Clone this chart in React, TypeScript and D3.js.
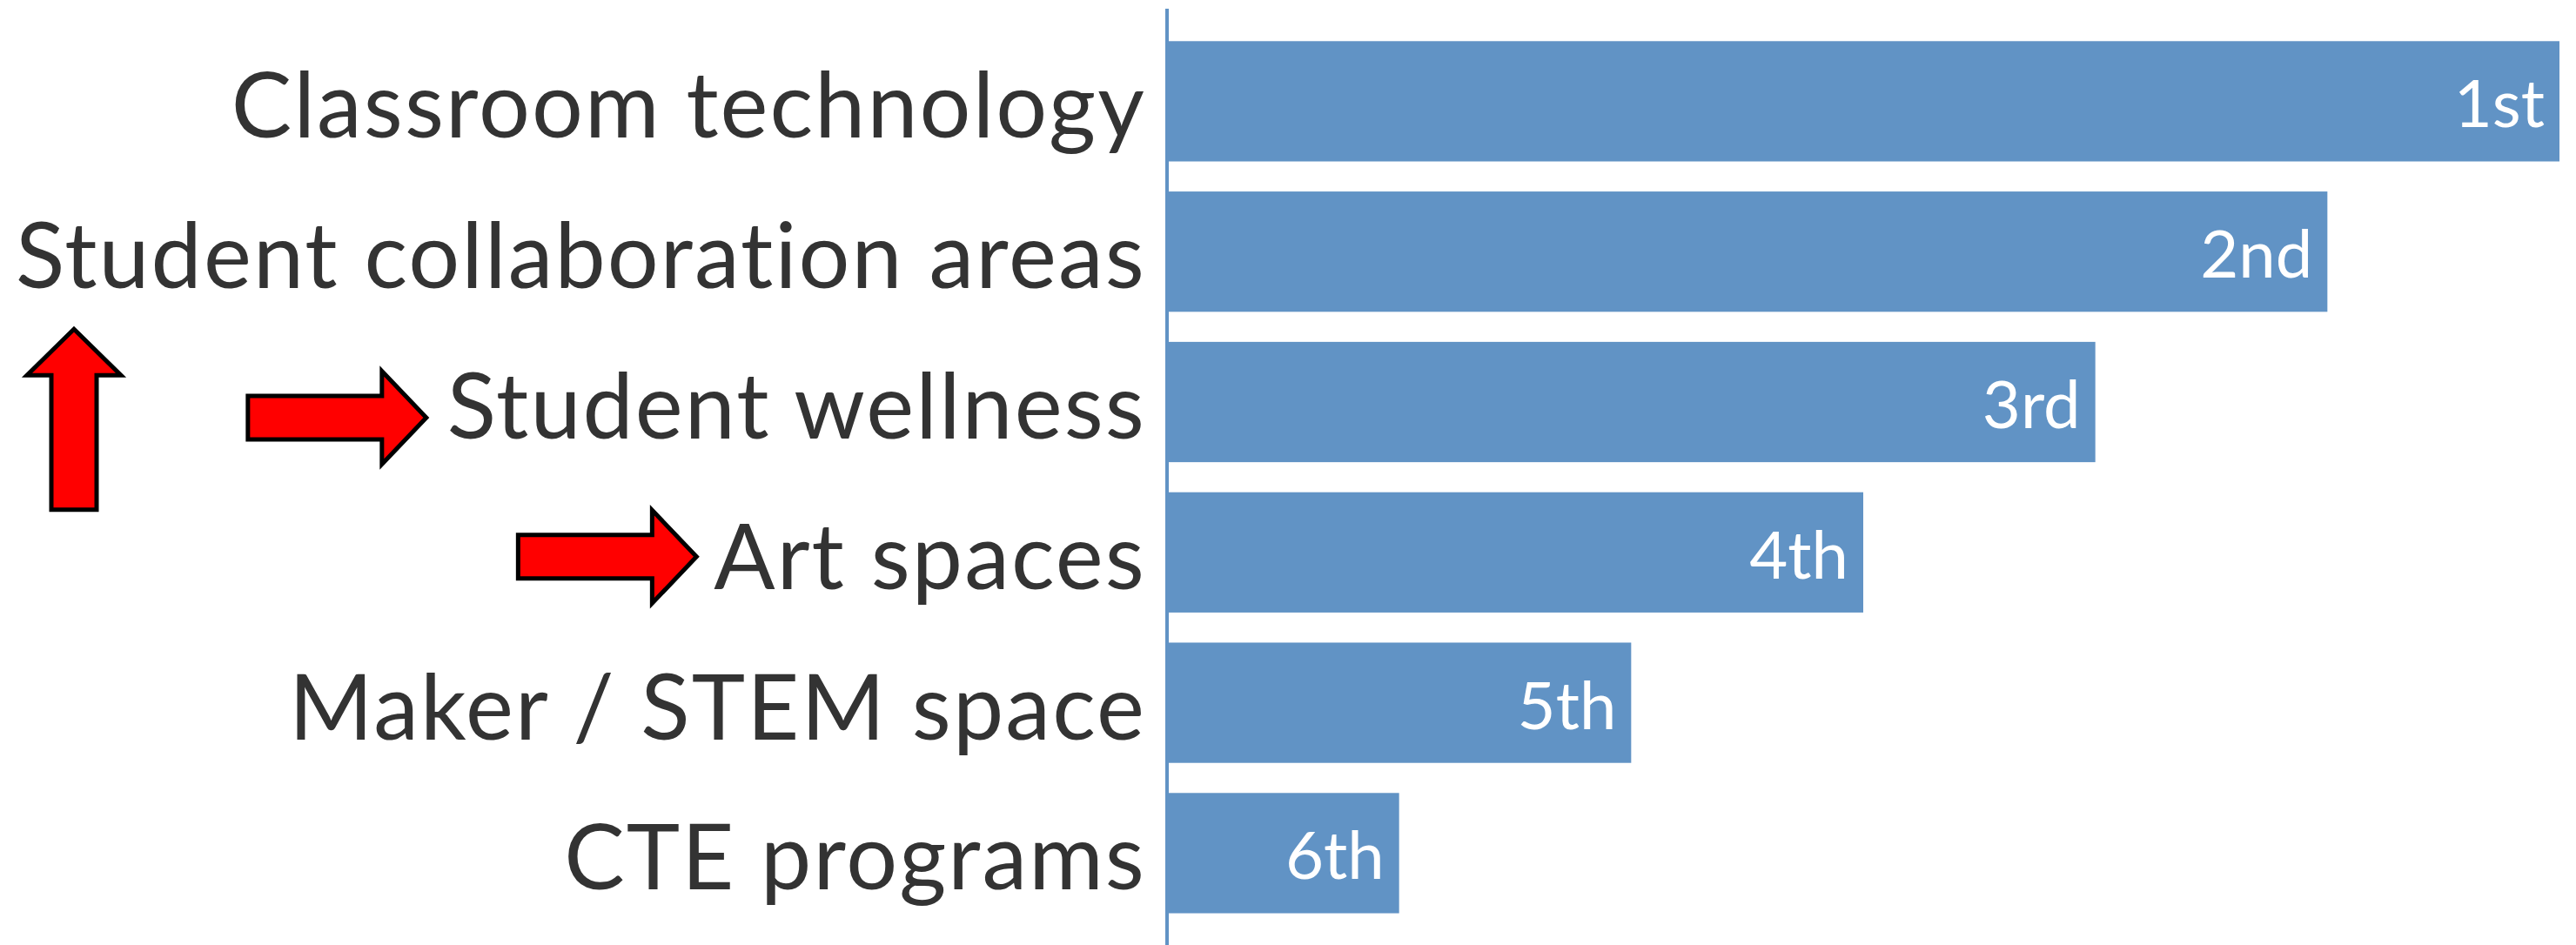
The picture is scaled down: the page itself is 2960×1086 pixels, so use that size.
import React, { useEffect, useRef } from "react";
import * as d3 from "d3";

const categories = [
  "Classroom technology",
  "Student collaboration areas",
  "Student wellness",
  "Art spaces",
  "Maker / STEM space",
  "CTE programs",
];
const scores = [6, 5, 4, 3, 2, 1];
const rankLabels = ["1st", "2nd", "3rd", "4th", "5th", "6th"];
const highlighted = ["Student wellness", "Art spaces"];

const W = 2960;
const H = 1086;

export default function App() {
  const ref = useRef<SVGSVGElement>(null);

  useEffect(() => {
    const svg = d3.select(ref.current);
    svg.selectAll("*").remove();

    const x = d3.scaleLinear().domain([0, 6]).range([1341, 2941]);
    const y = d3
      .scaleBand<string>()
      .domain(categories)
      .range([30, 30 + 6 * 172.8])
      .paddingInner(0.2)
      .paddingOuter(0.1);

    const data = categories.map((c, i) => ({ c, v: scores[i], r: rankLabels[i] }));
    const blue = "#6193c5";
    const font = "Lato, 'Source Sans Pro', sans-serif";
    const labelX = x(0) - 24;

    svg.append("rect").attr("width", W).attr("height", H).attr("fill", "#ffffff");

    svg
      .append("g")
      .selectAll("rect")
      .data(data)
      .join("rect")
      .attr("x", x(0))
      .attr("y", (d) => y(d.c)!)
      .attr("width", (d) => x(d.v) - x(0))
      .attr("height", y.bandwidth())
      .attr("fill", blue);

    svg
      .append("line")
      .attr("x1", x(0))
      .attr("x2", x(0))
      .attr("y1", 10)
      .attr("y2", H)
      .attr("stroke", blue)
      .attr("stroke-width", 4);

    const labels = svg
      .append("g")
      .selectAll("text")
      .data(data)
      .join("text")
      .attr("x", labelX)
      .attr("y", (d) => y(d.c)! + y.bandwidth() / 2 + 42)
      .attr("text-anchor", "end")
      .attr("font-family", font)
      .attr("font-size", 104)
      .attr("letter-spacing", 2.1)
      .style("font-variant-ligatures", "none")
      .attr("fill", "#333333")
      .text((d) => d.c);

    svg
      .append("g")
      .selectAll("text")
      .data(data)
      .join("text")
      .attr("x", (d) => x(d.v) - 17)
      .attr("y", (d) => y(d.c)! + y.bandwidth() / 2 + 30)
      .attr("text-anchor", "end")
      .attr("font-family", font)
      .attr("font-size", 76)
      .style("font-variant-ligatures", "none")
      .attr("fill", "#ffffff")
      .text((d) => d.r);

    // Red arrow annotations
    const arrowStyle = (p: d3.Selection<SVGPathElement, unknown, null, undefined>) =>
      p.attr("fill", "#ff0000").attr("stroke", "#000").attr("stroke-width", 5).attr("stroke-linejoin", "miter");

    const rightArrow = (tipX: number, cy: number) => {
      const len = 205, headLen = 51, shaftH = 50, headH = 107;
      const p = d3.path();
      p.moveTo(tipX - len, cy - shaftH / 2);
      p.lineTo(tipX - headLen, cy - shaftH / 2);
      p.lineTo(tipX - headLen, cy - headH / 2);
      p.lineTo(tipX, cy);
      p.lineTo(tipX - headLen, cy + headH / 2);
      p.lineTo(tipX - headLen, cy + shaftH / 2);
      p.lineTo(tipX - len, cy + shaftH / 2);
      p.closePath();
      svg.append("path").attr("d", p.toString()).call(arrowStyle as any);
    };

    // gap between arrow tip and label start, and vertical shift from band centre
    const arrowPos: Record<string, [number, number]> = {
      "Student wellness": [24, 18],
      "Art spaces": [20, 5],
    };
    labels.each(function (d: any) {
      if (!highlighted.includes(d.c)) return;
      const bb = (this as SVGTextElement).getBBox();
      const [gap, dy] = arrowPos[d.c];
      rightArrow(bb.x - gap, y(d.c)! + y.bandwidth() / 2 + dy);
    });

    // Up arrow between collaboration areas and wellness rows
    {
      const cx = 85;
      const tipY = y("Student collaboration areas")! + y.bandwidth() + 20;
      const bottomY = y("Art spaces")! + 20;
      const headLen = 53, shaftW = 52, headW = 108;
      const p = d3.path();
      p.moveTo(cx, tipY);
      p.lineTo(cx + headW / 2, tipY + headLen);
      p.lineTo(cx + shaftW / 2, tipY + headLen);
      p.lineTo(cx + shaftW / 2, bottomY);
      p.lineTo(cx - shaftW / 2, bottomY);
      p.lineTo(cx - shaftW / 2, tipY + headLen);
      p.lineTo(cx - headW / 2, tipY + headLen);
      p.closePath();
      svg.append("path").attr("d", p.toString()).call(arrowStyle as any);
    }
  }, []);

  return (
    <div style={{ position: "absolute", left: 0, top: 0 }}>
      <svg ref={ref} width={W} height={H} style={{ display: "block" }} />
    </div>
  );
}
